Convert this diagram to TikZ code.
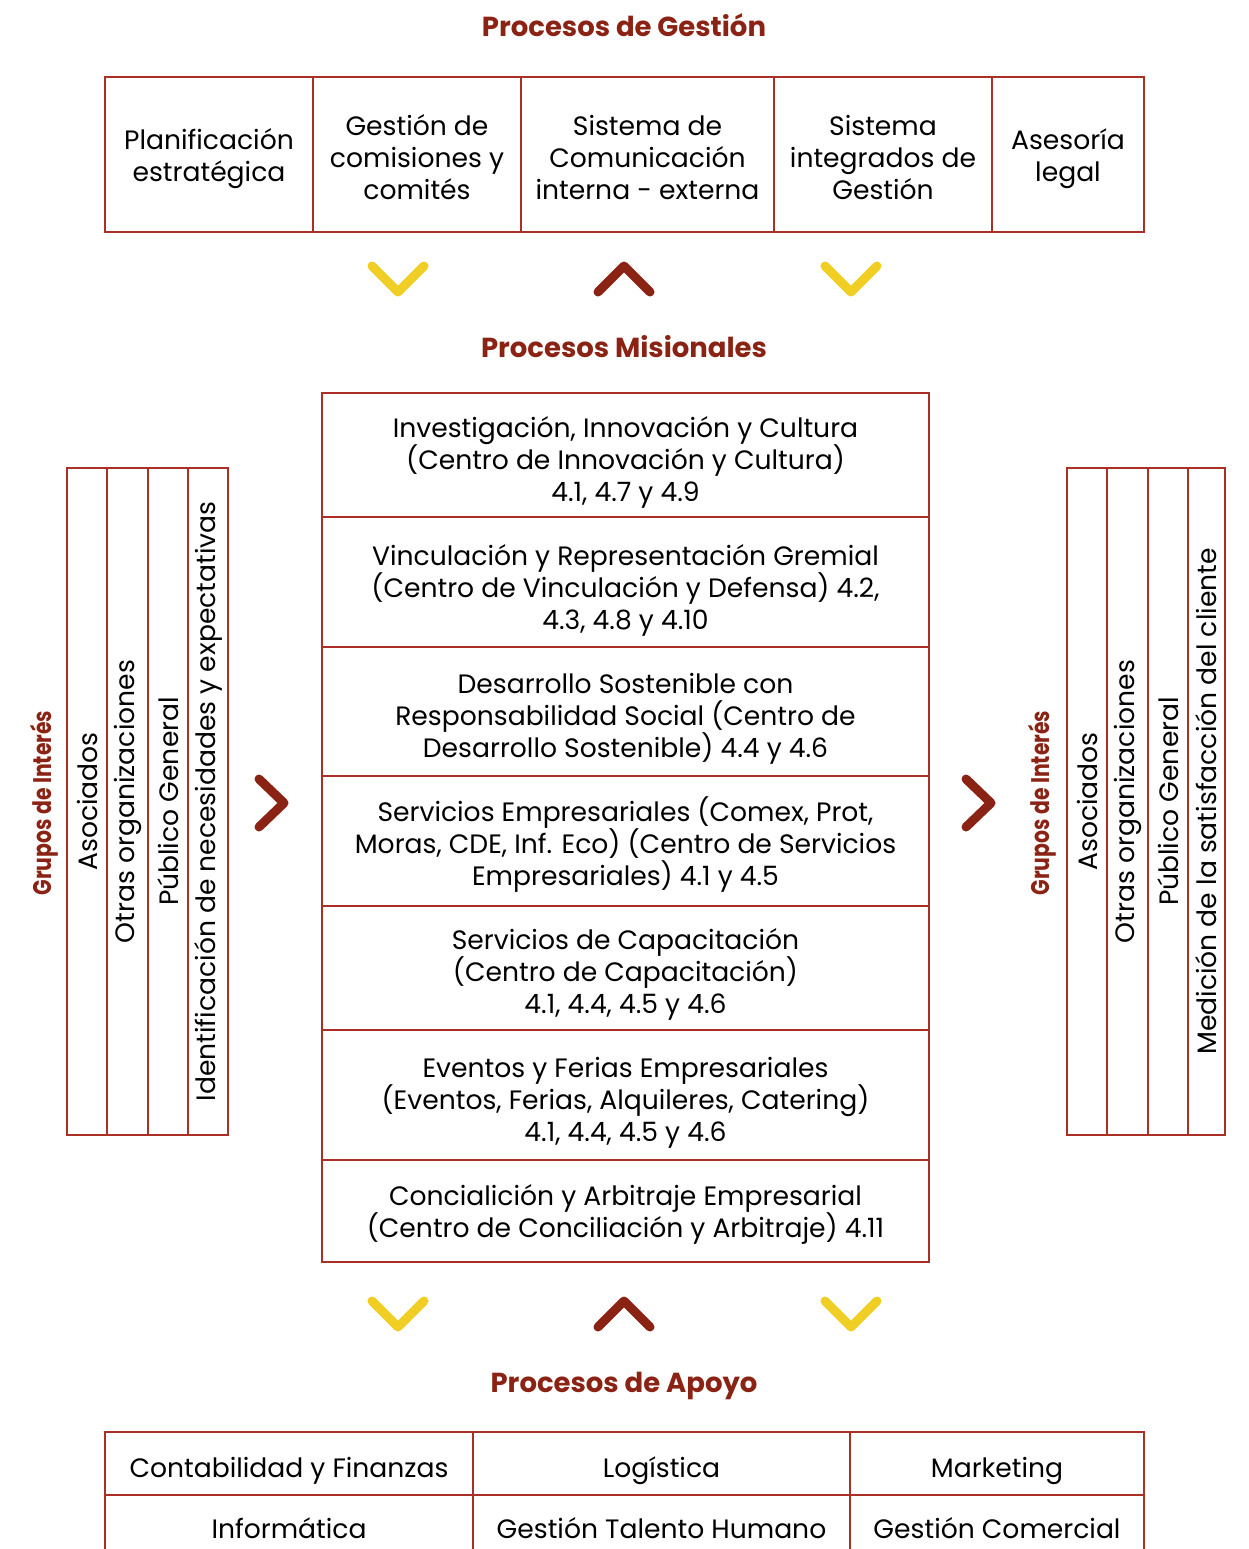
\documentclass[tikz,border=0pt]{standalone}
\usepackage{fontspec}
\setmainfont{Poppins}
\usepackage{tikz}
\definecolor{titred}{RGB}{139,35,21}
\definecolor{linered}{RGB}{170,48,38}
\definecolor{chyellow}{RGB}{240,206,36}

\begin{document}
\setlength{\lineskiplimit}{-20pt}
\begin{tikzpicture}
            [x=1pt,y=-1pt,every node/.style={align=center,inner sep=0pt,font=\fontsize{26.6}{32}\selectfont},
             cell/.style={draw=linered,line width=1.3pt},
             txt/.style={execute at begin node={\rule{0pt}{39pt}}},
             vcell/.style={draw=linered,line width=1.3pt,rotate=90,minimum width=667},
             title/.style={text=titred,font=\fontsize{27.5}{32}\selectfont\bfseries},
             grupo/.style={rotate=90,text=titred,font=\fontsize{25.5}{30}\selectfont\bfseries},
             chevy/.style={draw=chyellow,line width=9pt,line cap=round,line join=round},
             chevr/.style={draw=titred,line width=9pt,line cap=round,line join=round}]
            \useasboundingbox (0,0) rectangle (1249,1549);
            % gestion
            \node[title] (tgest) at (624,25) {Procesos de Gestión};
            \node[cell,minimum width=208,minimum height=155] (g1) at (209,154.5) {};
            \node[cell,minimum width=208,minimum height=155] (g2) at (417,154.5) {};
            \node[cell,minimum width=253,minimum height=155] (g3) at (647.5,154.5) {};
            \node[cell,minimum width=218,minimum height=155] (g4) at (883,154.5) {};
            \node[cell,minimum width=152,minimum height=155] (g5) at (1068,154.5) {};
            \node[txt,yshift=-4pt] (g1t) at (g1) {Planificación\\estratégica};
            \node[txt,yshift=-3pt] (g2t) at (g2) {Gestión de\\comisiones y\\comités};
            \node[txt,yshift=-3pt] (g3t) at (g3) {Sistema de\\Comunicación\\interna - externa};
            \node[txt,yshift=-3pt] (g4t) at (g4) {Sistema\\integrados de\\Gestión};
            \node[txt,yshift=-4pt] (g5t) at (g5) {Asesoría\\legal};
            \draw[chevy] (372,266) -- (398,292) -- (424,266);
            \draw[chevr] (598,292) -- (624,266) -- (650,292);
            \draw[chevy] (825,266) -- (851,292) -- (877,266);
            % misionales
            \node[title] (tmis) at (624,347) {Procesos Misionales};
            \node[cell,minimum width=607,minimum height=124] (m1) at (625.5,455) {};
            \node[cell,minimum width=607,minimum height=130] (m2) at (625.5,582) {};
            \node[cell,minimum width=607,minimum height=129] (m3) at (625.5,711.5) {};
            \node[cell,minimum width=607,minimum height=130] (m4) at (625.5,841) {};
            \node[cell,minimum width=607,minimum height=124] (m5) at (625.5,968) {};
            \node[cell,minimum width=607,minimum height=130] (m6) at (625.5,1095) {};
            \node[cell,minimum width=607,minimum height=102] (m7) at (625.5,1211) {};
            \node[txt,yshift=-7pt] (m1t) at (m1) {Investigación, Innovación y Cultura\\(Centro de Innovación y Cultura)\\4.1, 4.7 y 4.9};
            \node[txt,yshift=-8pt] (m2t) at (m2) {Vinculación y Representación Gremial\\(Centro de Vinculación y Defensa) 4.2,\\4.3, 4.8 y 4.10};
            \node[txt,yshift=-7pt] (m3t) at (m3) {Desarrollo Sostenible con\\Responsabilidad Social (Centro de\\Desarrollo Sostenible) 4.4 y 4.6};
            \node[txt,yshift=-4pt] (m4t) at (m4) {Servicios Empresariales (Comex, Prot,\\Moras, CDE, Inf. Eco) (Centro de Servicios\\Empresariales) 4.1 y 4.5};
            \node[txt,yshift=-6pt] (m5t) at (m5) {Servicios de Capacitación\\(Centro de Capacitación)\\4.1, 4.4, 4.5 y 4.6};
            \node[txt,yshift=-8pt] (m6t) at (m6) {Eventos y Ferias Empresariales\\(Eventos, Ferias, Alquileres, Catering)\\4.1, 4.4, 4.5 y 4.6};
            \node[txt,yshift=-3pt] (m7t) at (m7) {Concialición y Arbitraje Empresarial\\(Centro de Conciliación y Arbitraje) 4.11};
            % grupos izquierda
            \node[grupo] (gil) at (44,803) {\scalebox{0.8}[1]{Grupos de Interés}};
            \node[vcell,minimum height=40] (il1) at (87,801.5) {Asociados};
            \node[vcell,minimum height=41] (il2) at (127.5,801.5) {Otras organizaciones};
            \node[vcell,minimum height=40] (il3) at (168,801.5) {Público General};
            \node[vcell,minimum height=40] (il4) at (208,801.5) {Identificación de necesidades y expectativas};
            \draw[chevr] (259,779) -- (284,803) -- (259,827);
            % grupos derecha
            \node[grupo] (gid) at (1042,803) {\scalebox{0.8}[1]{Grupos de Interés}};
            \node[vcell,minimum height=40] (id1) at (1087,801.5) {Asociados};
            \node[vcell,minimum height=41] (id2) at (1127.5,801.5) {Otras organizaciones};
            \node[vcell,minimum height=40] (id3) at (1168,801.5) {Público General};
            \node[vcell,minimum height=37] (id4) at (1206.5,801.5) {Medición de la satisfacción del cliente};
            \draw[chevr] (966,779) -- (991,803) -- (966,827);
            % apoyo
            \draw[chevy] (372,1301) -- (398,1327) -- (424,1301);
            \draw[chevr] (598,1327) -- (624,1301) -- (650,1327);
            \draw[chevy] (825,1301) -- (851,1327) -- (877,1301);
            \node[title] (tapo) at (624,1386) {Procesos de Apoyo};
            \node[cell,minimum width=368,minimum height=63] (a1) at (289,1463.5) {};
            \node[cell,minimum width=377,minimum height=63] (a2) at (661.5,1463.5) {};
            \node[cell,minimum width=294,minimum height=63] (a3) at (997,1463.5) {};
            \node[cell,minimum width=368,minimum height=65] (a4) at (289,1527.5) {};
            \node[cell,minimum width=377,minimum height=65] (a5) at (661.5,1527.5) {};
            \node[cell,minimum width=294,minimum height=65] (a6) at (997,1527.5) {};
            \node[txt,yshift=2pt] (a1t) at (a1) {Contabilidad y Finanzas};
            \node[txt,yshift=2pt] (a2t) at (a2) {Logística};
            \node[txt,yshift=2pt] (a3t) at (a3) {Marketing};
            \node[txt,yshift=8pt] (a4t) at (a4) {Informática};
            \node[txt,yshift=8pt] (a5t) at (a5) {Gestión Talento Humano};
            \node[txt,yshift=8pt] (a6t) at (a6) {Gestión Comercial};
        \end{tikzpicture}
\end{document}
